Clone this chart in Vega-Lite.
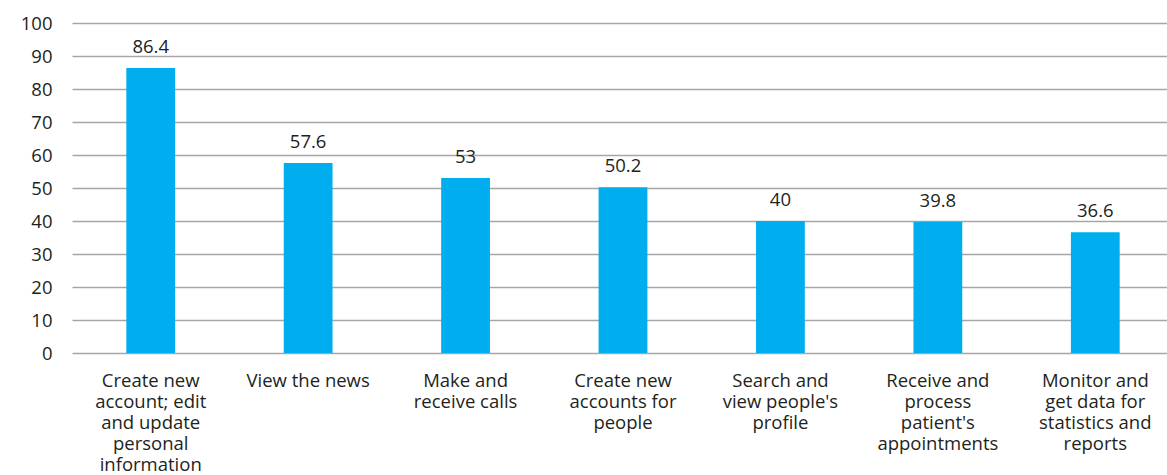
{
  "$schema": "https://vega.github.io/schema/vega-lite/v6.json",
  "autosize": "none",
  "width": 1102,
  "height": 330,
  "padding": {"left": 72, "top": 23, "right": 0, "bottom": 122},
  "background": "white",
  "config": {
    "view": {"stroke": null},
    "font": "Open Sans"
  },
  "data": {
    "values": [
      {"task": "Create new|account; edit|and update|personal|information", "value": 86.4},
      {"task": "View the news", "value": 57.6},
      {"task": "Make and|receive calls", "value": 53},
      {"task": "Create new|accounts for|people", "value": 50.2},
      {"task": "Search and|view people's|profile", "value": 40},
      {"task": "Receive and|process|patient's|appointments", "value": 39.8},
      {"task": "Monitor and|get data for|statistics and|reports", "value": 36.6}
    ]
  },
  "encoding": {
    "x": {
      "field": "task",
      "type": "nominal",
      "sort": null,
      "scale": {"paddingInner": 0.69, "paddingOuter": 0.345},
      "axis": {
        "title": null,
        "labelAngle": 0,
        "domain": false,
        "ticks": false,
        "labelExpr": "split(datum.label, '|')",
        "labelFont": "Open Sans",
        "labelFontSize": 18.5,
        "labelColor": "#231f20",
        "labelPadding": 18,
        "labelLineHeight": 21.2,
        "labelLimit": 0
      }
    },
    "y": {
      "field": "value",
      "type": "quantitative",
      "scale": {"domain": [0, 100], "nice": false},
      "axis": {
        "title": null,
        "values": [0, 10, 20, 30, 40, 50, 60, 70, 80, 90, 100],
        "domain": false,
        "ticks": false,
        "grid": true,
        "gridColor": "#a6a6a6",
        "gridWidth": 1.5,
        "labelFont": "Open Sans",
        "labelFontSize": 18.5,
        "labelColor": "#231f20",
        "labelPadding": 20
      }
    }
  },
  "layer": [
    {"mark": {"type": "bar", "color": "#00aeef"}},
    {
      "mark": {"type": "text", "baseline": "bottom", "dy": -11, "fontSize": 18.5, "font": "Open Sans", "color": "#231f20"},
      "encoding": {"text": {"field": "value", "type": "quantitative"}}
    }
  ]
}
